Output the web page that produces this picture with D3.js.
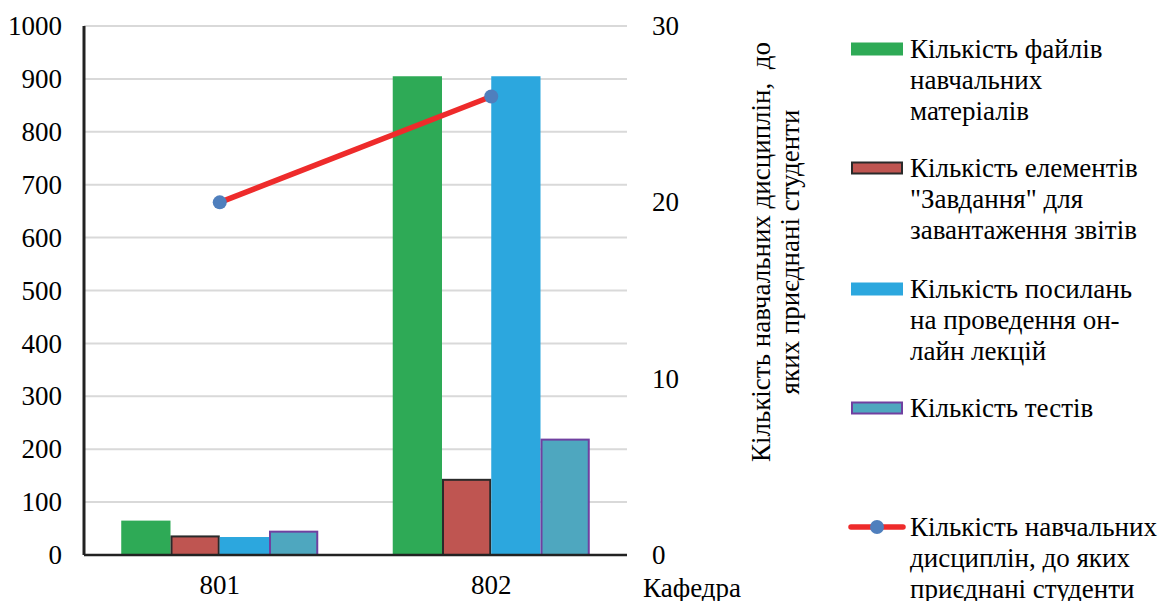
<!DOCTYPE html>
<html><head><meta charset="utf-8">
<script src="https://cdn.jsdelivr.net/npm/d3@7"></script>
<style>body{margin:0;background:#fff}svg{display:block}</style>
</head><body><svg id="c" width="1164" height="601"></svg>
<script>
const categories = ["801", "802"];
const seriesNames = [
  "Кількість файлів навчальних матеріалів",
  "Кількість елементів \"Завдання\" для завантаження звітів",
  "Кількість посилань на проведення он-лайн лекцій",
  "Кількість тестів"
];
const filesValues = [65, 905];
const tasksValues = [37, 144];
const linksValues = [34, 905];
const testsValues = [46, 220];
const disciplinesValues = [20, 26];
const leftTicks = [0,100,200,300,400,500,600,700,800,900,1000];
const rightTicks = [0,10,20,30];
const legendLines = [
  ["Кількість файлів","навчальних","матеріалів"],
  ["Кількість елементів","\"Завдання\" для","завантаження звітів"],
  ["Кількість посилань","на проведення он-","лайн лекцій"],
  ["Кількість тестів"],
  ["Кількість навчальних","дисциплін, до яких","приєднані студенти"]
];
const axisTitleLines = ["Кількість навчальних дисциплін,  до","яких приєднані студенти"];

const fills = ["#2eaa56","#bf5551","#2ca7de","#4ea7bf"];
const strokes = ["none","#2a2a2a","none","#7040a0"];

const FF = "Liberation Serif";
const font = 27;
const svg = d3.select("#c").attr("font-family", FF);
const L = 84, R = 627, T = 26, B = 555;
const x0 = d3.scaleBand().domain(categories).range([L, R]).padding(0);
const x1 = d3.scaleBand().domain(d3.range(4)).range([0, x0.bandwidth()]).paddingInner(0).paddingOuter(0.756);
const y = d3.scaleLinear().domain([0,1000]).range([B, T]);
const yR = d3.scaleLinear().domain([0,30]).range([B, T]);

// gridlines
svg.append("g").selectAll("line").data(leftTicks.filter(d=>d>0)).join("line")
  .attr("x1", L).attr("x2", R).attr("y1", d=>y(d)).attr("y2", d=>y(d))
  .attr("stroke", "#d9d9d9").attr("stroke-width", 2);

// bars
const data = [filesValues, tasksValues, linksValues, testsValues];
categories.forEach((c, ci) => {
  const g = svg.append("g").attr("transform", `translate(${x0(c)},0)`);
  data.forEach((vals, si) => {
    const sw = strokes[si] === "none" ? 0 : 2;
    g.append("rect")
      .attr("x", x1(si) + sw/2).attr("y", y(vals[ci]) + sw/2)
      .attr("width", x1.bandwidth() - sw).attr("height", y(0) - y(vals[ci]) - sw/2)
      .attr("fill", fills[si]).attr("stroke", strokes[si]).attr("stroke-width", sw);
  });
});

// axes lines
svg.append("line").attr("x1", L).attr("x2", R).attr("y1", B).attr("y2", B).attr("stroke", "#222").attr("stroke-width", 2.5);
svg.append("line").attr("x1", L).attr("x2", L).attr("y1", T).attr("y2", B).attr("stroke", "#222").attr("stroke-width", 3);

function styleAxis(g){
  g.attr("font-family", FF).attr("font-size", font);
  g.select(".domain").remove();
  g.selectAll("text").attr("font-family", FF).attr("font-size", font).attr("fill","#000");
}

// left axis
const ax = svg.append("g").attr("transform", `translate(${L},0)`)
  .call(d3.axisLeft(y).tickValues(leftTicks).tickFormat(d3.format("d")).tickSize(0).tickPadding(22));
styleAxis(ax);

// right axis
const axR = svg.append("g").attr("transform", `translate(${R},0)`)
  .call(d3.axisRight(yR).tickValues(rightTicks).tickFormat(d3.format("d")).tickSize(0).tickPadding(25));
styleAxis(axR);

// bottom axis
const axB = svg.append("g").attr("transform", `translate(0,${B})`)
  .call(d3.axisBottom(x0).tickSize(0).tickPadding(20));
styleAxis(axB);

svg.append("text").attr("x", 643).attr("y", 597).attr("font-size", font).attr("font-family", FF).text("Кафедра");

// line series
const line = d3.line().x((d,i)=>x0(categories[i]) + x0.bandwidth()/2).y(d=>yR(d));
svg.append("path").datum(disciplinesValues).attr("d", line)
  .attr("fill","none").attr("stroke","#ee2b2b").attr("stroke-width",5.5);
svg.append("g").selectAll("circle").data(disciplinesValues).join("circle")
  .attr("cx",(d,i)=>x0(categories[i]) + x0.bandwidth()/2).attr("cy", d=>yR(d)).attr("r",7)
  .attr("fill","#4f7fbd");

// right axis title
axisTitleLines.forEach((t,i)=>{
  svg.append("text").attr("font-size", font).attr("font-family", FF).attr("text-anchor","middle")
    .attr("transform", `translate(${770 + i*29},252) rotate(-90)`).attr("xml:space","preserve").style("white-space","pre").text(t);
});

// legend
const legY = [49, 168, 289, 408, 527];
const lg = svg.append("g");
legendLines.forEach((lines, i) => {
  if (i < 4) {
    const sw = strokes[i] === "none" ? 0 : 2;
    lg.append("rect").attr("x", 851 + sw/2).attr("y", legY[i]-6.5 + sw/2).attr("width", 52 - sw).attr("height", 13 - sw)
      .attr("fill", fills[i]).attr("stroke", strokes[i]).attr("stroke-width", sw);
  } else {
    lg.append("line").attr("x1", 851).attr("x2", 903).attr("y1", legY[i]).attr("y2", legY[i])
      .attr("stroke","#ee2b2b").attr("stroke-width",5.5).attr("stroke-linecap","round");
    lg.append("circle").attr("cx", 877).attr("cy", legY[i]).attr("r", 7).attr("fill","#4f7fbd");
  }
  lines.forEach((t, j) => {
    lg.append("text").attr("x", 910).attr("y", legY[i] + 9 + j*31).attr("font-size", font).attr("font-family", FF).text(t);
  });
});
</script></body></html>
